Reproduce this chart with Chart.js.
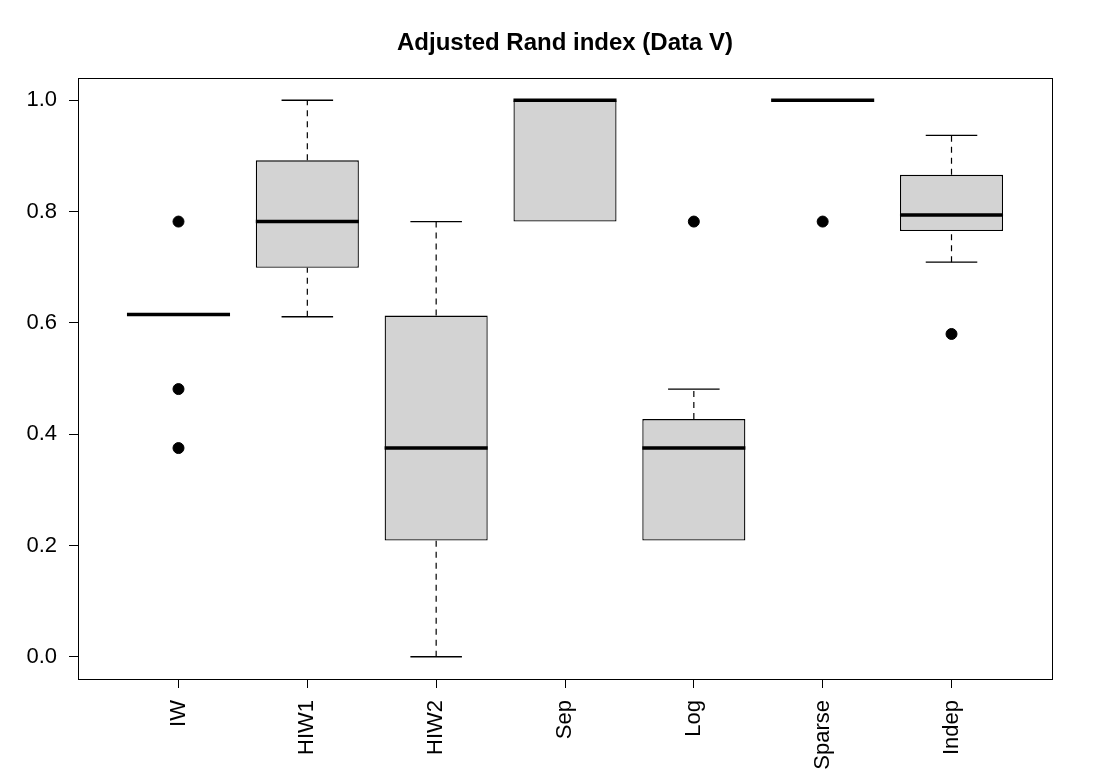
<!DOCTYPE html>
<html>
<head>
<meta charset="utf-8">
<title>Adjusted Rand index (Data V)</title>
<script src="https://cdn.jsdelivr.net/npm/chart.js@4.4.1/dist/chart.umd.min.js"></script>
<style>
  html, body { margin: 0; padding: 0; background: #ffffff; }
  #chart { display: block; }
</style>
</head>
<body>
<canvas id="chart" width="1093" height="777"></canvas>
<script>
// boxplot stats, one entry per method
const methods = ["IW", "HIW1", "HIW2", "Sep", "Log", "Sparse", "Indep"];
const lowerWhisker = [0.615, 0.611, 0.0, 0.782, 0.209, 1.0, 0.709];
const q1 = [0.615, 0.699, 0.209, 0.782, 0.209, 1.0, 0.765];
const median = [0.615, 0.782, 0.375, 1.0, 0.375, 1.0, 0.794];
const q3 = [0.615, 0.892, 0.613, 1.0, 0.427, 1.0, 0.866];
const upperWhisker = [0.615, 1.0, 0.782, 1.0, 0.481, 1.0, 0.937];
const outliers = [
  [0.782, 0.481, 0.375],
  [],
  [],
  [],
  [0.782],
  [0.782],
  [0.58]
];
const yTicks = [0.0, 0.2, 0.4, 0.6, 0.8, 1.0];

const BOX_HALF = 0.4;
const CAP_HALF = 0.2;

function segments(fromArr, toArr) {
  // vertical pieces, broken with null so each box gets its own line
  const pts = [];
  methods.forEach((m, i) => {
    if (fromArr[i] === toArr[i]) return;
    pts.push({ x: i + 1, y: fromArr[i] });
    pts.push({ x: i + 1, y: toArr[i] });
    pts.push({ x: i + 1, y: null });
  });
  return pts;
}

function horizontals(values, half, skip) {
  const pts = [];
  methods.forEach((m, i) => {
    if (skip && skip(i)) return;
    pts.push({ x: i + 1 - half, y: values[i] });
    pts.push({ x: i + 1 + half, y: values[i] });
    pts.push({ x: i + 1, y: null });
  });
  return pts;
}

const boxData = methods.map((m, i) => ({ x: i + 1, y: [q1[i], q3[i]] }));
const outlierData = [];
outliers.forEach((list, i) => {
  list.forEach((v) => outlierData.push({ x: i + 1, y: v }));
});

const lineBase = {
  type: "line",
  borderColor: "#000000",
  pointRadius: 0,
  pointHoverRadius: 0,
  spanGaps: false,
  fill: false,
  tension: 0
};

const frame = {
  id: "frame",
  afterDraw(chart) {
    const { ctx, chartArea } = chart;
    ctx.save();
    ctx.strokeStyle = "#000000";
    ctx.lineWidth = 1;
    ctx.strokeRect(chartArea.left + 0.5, chartArea.top + 0.5,
      chartArea.right - chartArea.left, chartArea.bottom - chartArea.top);
    ctx.restore();
  }
};

const ctx = document.getElementById("chart");
new Chart(ctx, {
  type: "bar",
  data: {
    datasets: [
      {
        type: "scatter",
        data: outlierData,
        backgroundColor: "#000000",
        borderColor: "#000000",
        pointRadius: 5.5,
        pointHoverRadius: 5.5,
        order: 0
      },
      Object.assign({}, lineBase, {
        data: horizontals(median, BOX_HALF),
        borderWidth: 3.5,
        borderCapStyle: "butt",
        order: 1
      }),
      Object.assign({}, lineBase, {
        data: horizontals(upperWhisker, CAP_HALF, (i) => upperWhisker[i] === q3[i])
          .concat(horizontals(lowerWhisker, CAP_HALF, (i) => lowerWhisker[i] === q1[i])),
        borderWidth: 1.3,
        order: 2
      }),
      Object.assign({}, lineBase, {
        data: segments(q3, upperWhisker).concat(segments(lowerWhisker, q1)),
        borderWidth: 1.2,
        borderDash: [6, 5],
        order: 3
      }),
      {
        type: "bar",
        data: boxData,
        backgroundColor: "#d3d3d3",
        borderColor: "#000000",
        borderWidth: 1.3,
        borderSkipped: false,
        categoryPercentage: 1.0,
        barPercentage: 0.8,
        order: 4
      }
    ]
  },
  options: {
    responsive: false,
    animation: false,
    devicePixelRatio: 1,
    layout: { padding: { left: 0, right: 41, top: 0, bottom: 0 } },
    plugins: {
      legend: { display: false },
      tooltip: { enabled: false },
      title: {
        display: true,
        text: "Adjusted Rand index (Data V)",
        color: "#000000",
        fullSize: false,
        font: { family: "'Liberation Sans', Arial, sans-serif", size: 24, weight: "bold", lineHeight: 1.2 },
        padding: { top: 29, bottom: 20.2 }
      }
    },
    scales: {
      x: {
        type: "linear",
        min: 0.22,
        max: 7.78,
        offset: false,
        afterBuildTicks(scale) {
          scale.ticks = methods.map((m, i) => ({ value: i + 1 }));
        },
        afterFit(scale) { scale.height = 98; },
        ticks: {
          color: "#000000",
          font: { family: "'Liberation Sans', Arial, sans-serif", size: 22 },
          minRotation: 90,
          maxRotation: 90,
          padding: 12,
          autoSkip: false,
          callback(value) { return methods[value - 1]; }
        },
        grid: {
          offset: false,
          drawOnChartArea: false,
          drawTicks: true,
          tickLength: 9,
          color: "#000000",
          lineWidth: 1
        },
        border: { display: true, color: "#000000", width: 1 }
      },
      y: {
        type: "linear",
        min: -0.04,
        max: 1.04,
        afterBuildTicks(scale) {
          scale.ticks = yTicks.map((v) => ({ value: v }));
        },
        afterFit(scale) { scale.width = 78; },
        ticks: {
          color: "#000000",
          font: { family: "'Liberation Sans', Arial, sans-serif", size: 22 },
          padding: 12,
          callback(value) { return value.toFixed(1); }
        },
        grid: {
          drawOnChartArea: false,
          drawTicks: true,
          tickLength: 9,
          color: "#000000",
          lineWidth: 1
        },
        border: { display: true, color: "#000000", width: 1 }
      }
    }
  },
  plugins: [frame]
});
</script>
</body>
</html>
